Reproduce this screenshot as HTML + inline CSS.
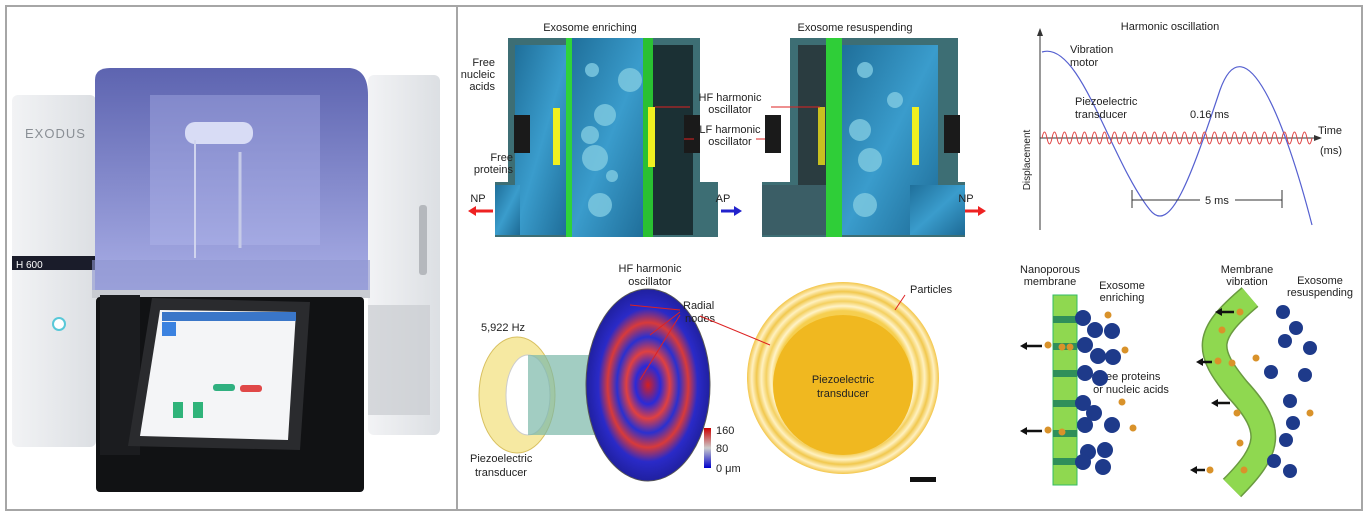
<!DOCTYPE html>
<html><head><meta charset="utf-8"><style>
html,body{margin:0;padding:0;background:#fff;}
svg{display:block;font-family:"Liberation Sans",Arial,sans-serif;}
</style></head><body>
<svg width="1369" height="517" viewBox="0 0 1369 517" xmlns="http://www.w3.org/2000/svg">
<defs>
<linearGradient id="glass" x1="0" y1="0" x2="0" y2="1"><stop offset="0" stop-color="#5d64b0"/><stop offset="1" stop-color="#a9aee6"/></linearGradient>
<linearGradient id="side" x1="0" y1="0" x2="1" y2="0"><stop offset="0" stop-color="#f2f3f5"/><stop offset="1" stop-color="#dcdfe3"/></linearGradient>
<linearGradient id="water" x1="0" y1="0" x2="1" y2="1"><stop offset="0" stop-color="#1f6f9a"/><stop offset="0.5" stop-color="#3a9ccc"/><stop offset="1" stop-color="#1d6a95"/></linearGradient>
<radialGradient id="heat" cx="0.5" cy="0.5" r="0.5"><stop offset="0" stop-color="#d42020"/><stop offset="0.2" stop-color="#2a2ad8"/><stop offset="0.35" stop-color="#e04040"/><stop offset="0.5" stop-color="#2a30d0"/><stop offset="0.65" stop-color="#d83a3a"/><stop offset="0.8" stop-color="#2a2ac8"/><stop offset="1" stop-color="#2020a0"/></radialGradient>
<radialGradient id="disc" cx="0.5" cy="0.5" r="0.5"><stop offset="0.7" stop-color="#f6cf50"/><stop offset="0.75" stop-color="#fff3c8"/><stop offset="0.8" stop-color="#f4d060"/><stop offset="0.85" stop-color="#fff1c0"/><stop offset="0.9" stop-color="#f1c84e"/><stop offset="0.95" stop-color="#fff0c0"/><stop offset="1" stop-color="#f3c64a"/></radialGradient>
<linearGradient id="cb" x1="0" y1="0" x2="0" y2="1"><stop offset="0" stop-color="#c00"/><stop offset="0.5" stop-color="#ccc"/><stop offset="1" stop-color="#00c"/></linearGradient>
</defs>
<rect x="6" y="6" width="1356" height="504" fill="none" stroke="#a6a6a6" stroke-width="2"/>
<line x1="457" y1="6" x2="457" y2="510" stroke="#a6a6a6" stroke-width="2"/>

<!-- device -->
<rect x="12" y="95" width="84" height="352" rx="6" fill="url(#side)"/>
<text x="25" y="138" font-size="13" fill="#8a8f95" letter-spacing="1">EXODUS</text>
<rect x="12" y="256" width="84" height="14" fill="#1a1c2a"/>
<text x="16" y="268" font-size="10" fill="#fff">H 600</text>
<circle cx="59" cy="324" r="6" fill="#fff" stroke="#58c8d8" stroke-width="2"/>
<rect x="368" y="75" width="72" height="360" rx="6" fill="url(#side)"/>
<rect x="368" y="305" width="62" height="110" fill="#c9ccd0" opacity="0.7"/>
<rect x="419" y="205" width="8" height="70" rx="3" fill="#b5b8bd"/>
<path d="M95 80 Q95 68 110 68 L350 68 Q368 70 368 95 L368 290 L95 290 Z" fill="url(#glass)"/>
<rect x="150" y="95" width="170" height="150" fill="#b7bcf0" opacity="0.35"/>
<rect x="185" y="122" width="68" height="22" rx="10" fill="#d8dcf5"/>
<line x1="195" y1="140" x2="195" y2="258" stroke="#d0d4ee" stroke-width="2"/>
<line x1="240" y1="152" x2="240" y2="248" stroke="#c6cbe8" stroke-width="3"/>
<rect x="92" y="260" width="278" height="37" fill="#8f96d0" opacity="0.6"/>
<rect x="92" y="290" width="278" height="8" fill="#c9ccd2"/>
<rect x="96" y="297" width="268" height="195" rx="4" fill="#111214"/>
<rect x="100" y="295" width="40" height="160" fill="#1b1c1f"/>
<polygon points="152,298 310,302 300,450 128,446" fill="#2a2b2e"/>
<polygon points="160,310 296,312 288,440 140,436" fill="#f4f5f7"/>
<rect x="162" y="312" width="134" height="9" fill="#3a76c8"/>
<rect x="162" y="322" width="14" height="14" fill="#3b82e0"/>
<rect x="213" y="384" width="22" height="7" rx="3" fill="#30b080"/>
<rect x="240" y="385" width="22" height="7" rx="3" fill="#e04848"/>
<rect x="173" y="402" width="10" height="16" fill="#2fb37a"/>
<rect x="193" y="402" width="10" height="16" fill="#2fb37a"/>

<!-- top chamber 1 -->
<g>
<path d="M508 38 L700 38 L700 182 L718 182 L718 237 L495 237 L495 182 L508 182 Z" fill="#3d6e74"/>
<rect x="515" y="45" width="55" height="190" fill="url(#water)"/>
<rect x="495" y="185" width="25" height="50" fill="url(#water)"/>
<rect x="570" y="38" width="80" height="199" fill="url(#water)"/>
<rect x="566" y="38" width="6" height="199" fill="#2fd23a"/>
<rect x="643" y="38" width="10" height="199" fill="#2ac032"/>
<rect x="653" y="45" width="40" height="190" fill="#1b3034"/>
<rect x="553" y="108" width="7" height="57" fill="#f0f020"/>
<rect x="648" y="107" width="7" height="60" fill="#f0f020"/>
<rect x="514" y="115" width="16" height="38" fill="#1a1a1a"/>
<rect x="684" y="115" width="16" height="38" fill="#1a1a1a"/>
<g fill="#7cc8e0" opacity="0.85"><circle cx="592" cy="70" r="7"/><circle cx="605" cy="115" r="11"/><circle cx="590" cy="135" r="9"/><circle cx="595" cy="158" r="13"/><circle cx="600" cy="205" r="12"/><circle cx="630" cy="80" r="12"/><circle cx="612" cy="176" r="6"/></g>
</g>
<!-- top chamber 2 -->
<g>
<path d="M790 38 L958 38 L958 182 L965 182 L965 237 L762 237 L762 182 L790 182 Z" fill="#3d6e74"/>
<rect x="798" y="45" width="28" height="190" fill="#2a3c40"/>
<rect x="762" y="185" width="64" height="50" fill="#3b5e66"/>
<rect x="826" y="38" width="16" height="199" fill="#2fce38"/>
<rect x="842" y="45" width="96" height="190" fill="url(#water)"/>
<rect x="910" y="185" width="55" height="50" fill="url(#water)"/>
<rect x="818" y="107" width="7" height="58" fill="#c8c020"/>
<rect x="912" y="107" width="7" height="58" fill="#f0f020"/>
<rect x="765" y="115" width="16" height="38" fill="#1a1a1a"/>
<rect x="944" y="115" width="16" height="38" fill="#1a1a1a"/>
<g fill="#7cc8e0" opacity="0.85"><circle cx="865" cy="70" r="8"/><circle cx="860" cy="130" r="11"/><circle cx="870" cy="160" r="12"/><circle cx="865" cy="205" r="12"/><circle cx="895" cy="100" r="8"/></g>
</g>
<g font-size="11" fill="#222" text-anchor="middle">
<text x="590" y="31">Exosome enriching</text>
<text x="855" y="31">Exosome resuspending</text>
<text x="730" y="101">HF harmonic</text><text x="730" y="113">oscillator</text>
<text x="730" y="133">LF harmonic</text><text x="730" y="145">oscillator</text>
<text x="495" y="66" text-anchor="end">Free</text><text x="495" y="78" text-anchor="end">nucleic</text><text x="495" y="90" text-anchor="end">acids</text>
<text x="513" y="161" text-anchor="end">Free</text><text x="513" y="173" text-anchor="end">proteins</text>
<text x="478" y="202">NP</text><text x="723" y="202">AP</text><text x="966" y="202">NP</text>
</g>
<g stroke="#d22" stroke-width="1"><line x1="690" y1="107" x2="655" y2="107"/><line x1="771" y1="107" x2="820" y2="107"/><line x1="694" y1="139" x2="684" y2="139"/><line x1="765" y1="139" x2="756" y2="139"/></g>
<path d="M473 211 L493 211" stroke="#e22" stroke-width="3"/><polygon points="468,211 476,206 476,216" fill="#e22"/>
<path d="M721 211 L737 211" stroke="#22c" stroke-width="3"/><polygon points="742,211 734,206 734,216" fill="#22c"/>
<path d="M965 211 L980 211" stroke="#e22" stroke-width="3"/><polygon points="986,211 978,206 978,216" fill="#e22"/>

<!-- harmonic plot -->
<text x="1170" y="30" font-size="11" text-anchor="middle" fill="#222">Harmonic oscillation</text>
<line x1="1040" y1="230" x2="1040" y2="34" stroke="#333"/><polygon points="1040,28 1037,36 1043,36" fill="#333"/>
<line x1="1040" y1="138" x2="1318" y2="138" stroke="#333"/><polygon points="1322,138 1314,135 1314,141" fill="#333"/>
<text x="1030" y="160" font-size="10" fill="#222" transform="rotate(-90 1030 160)" text-anchor="middle">Displacement</text>
<path d="M1042 52 C1080 40 1110 160 1150 210 C1170 235 1190 180 1220 90 C1245 20 1285 120 1312 225" fill="none" stroke="#5560d0" stroke-width="1.2"/>
<path d="M1042 138 q2.5 -12 5 0 t5 0 t5 0 t5 0 t5 0 t5 0 t5 0 t5 0 t5 0 t5 0 t5 0 t5 0 t5 0 t5 0 t5 0 t5 0 t5 0 t5 0 t5 0 t5 0 t5 0 t5 0 t5 0 t5 0 t5 0 t5 0 t5 0 t5 0 t5 0 t5 0 t5 0 t5 0 t5 0 t5 0 t5 0 t5 0 t5 0 t5 0 t5 0 t5 0 t5 0 t5 0 t5 0 t5 0 t5 0 t5 0 t5 0 t5 0 t5 0 t5 0 t5 0 t5 0 t5 0 t5 0" fill="none" stroke="#e04040" stroke-width="1"/>
<g font-size="11" fill="#222"><text x="1070" y="53">Vibration</text><text x="1070" y="66">motor</text>
<text x="1075" y="105">Piezoelectric</text><text x="1075" y="118">transducer</text>
<text x="1190" y="118">0.16 ms</text><text x="1318" y="134">Time</text><text x="1320" y="154">(ms)</text>
<text x="1205" y="204">5 ms</text></g>
<line x1="1132" y1="190" x2="1132" y2="208" stroke="#333"/><line x1="1282" y1="190" x2="1282" y2="208" stroke="#333"/>
<line x1="1132" y1="200" x2="1200" y2="200" stroke="#333"/><line x1="1235" y1="200" x2="1282" y2="200" stroke="#333"/>

<!-- bottom middle -->
<text x="650" y="272" font-size="11" text-anchor="middle" fill="#222">HF harmonic</text>
<text x="650" y="285" font-size="11" text-anchor="middle" fill="#222">oscillator</text>
<text x="481" y="331" font-size="11" fill="#222">5,922 Hz</text>
<ellipse cx="517" cy="395" rx="38" ry="58" fill="#f6e9a2" stroke="#d8c060"/>
<ellipse cx="528" cy="395" rx="22" ry="40" fill="#fff" stroke="#ccc"/>
<polygon points="528,355 600,355 600,435 528,435" fill="#7ab8a8" opacity="0.7"/>
<ellipse cx="648" cy="385" rx="62" ry="96" fill="url(#heat)" stroke="#555"/>
<text x="470" y="462" font-size="11" fill="#222">Piezoelectric</text><text x="475" y="476" font-size="11" fill="#222">transducer</text>
<text x="683" y="309" font-size="11" fill="#222">Radial</text><text x="685" y="322" font-size="11" fill="#222">nodes</text>
<rect x="704" y="428" width="7" height="40" fill="url(#cb)"/>
<g font-size="11" fill="#222"><text x="716" y="434">160</text><text x="716" y="452">80</text><text x="716" y="472">0 μm</text></g>
<circle cx="843" cy="378" r="96" fill="url(#disc)"/>
<circle cx="843" cy="385" r="70" fill="#f0b820"/>
<text x="843" y="383" font-size="11" text-anchor="middle" fill="#222">Piezoelectric</text>
<text x="843" y="397" font-size="11" text-anchor="middle" fill="#222">transducer</text>
<text x="910" y="293" font-size="11" fill="#222">Particles</text>
<rect x="910" y="477" width="26" height="5" fill="#111"/>
<g stroke="#d22" stroke-width="1"><line x1="680" y1="310" x2="630" y2="305"/><line x1="680" y1="312" x2="650" y2="335"/><line x1="680" y1="315" x2="640" y2="380"/><line x1="700" y1="316" x2="770" y2="345"/><line x1="905" y1="295" x2="895" y2="310"/></g>

<!-- bottom right membranes -->
<g font-size="11" fill="#222" text-anchor="middle"><text x="1050" y="273">Nanoporous</text><text x="1050" y="285">membrane</text>
<text x="1122" y="289">Exosome</text><text x="1122" y="301">enriching</text>
<text x="1128" y="380">Free proteins</text><text x="1131" y="393">or nucleic acids</text>
<text x="1247" y="273">Membrane</text><text x="1247" y="285">vibration</text>
<text x="1320" y="284">Exosome</text><text x="1320" y="296">resuspending</text></g>
<rect x="1053" y="295" width="24" height="190" fill="#8fd850" stroke="#3b6"/>
<g fill="#2f8f5a"><rect x="1053" y="316" width="24" height="7"/><rect x="1053" y="343" width="24" height="7"/><rect x="1053" y="370" width="24" height="7"/><rect x="1053" y="400" width="24" height="7"/><rect x="1053" y="430" width="24" height="7"/><rect x="1053" y="458" width="24" height="7"/></g>
<path d="M1250 297 C1205 335 1205 350 1238 390 C1275 430 1270 450 1232 488" fill="none" stroke="#6a9a40" stroke-width="26"/>
<path d="M1250 297 C1205 335 1205 350 1238 390 C1275 430 1270 450 1232 488" fill="none" stroke="#8fd850" stroke-width="23"/>
<g fill="#1e3a8a">
<circle cx="1083" cy="318" r="8"/><circle cx="1095" cy="330" r="8"/><circle cx="1112" cy="331" r="8"/><circle cx="1085" cy="345" r="8"/><circle cx="1098" cy="356" r="8"/><circle cx="1113" cy="357" r="8"/><circle cx="1085" cy="373" r="8"/><circle cx="1100" cy="378" r="8"/><circle cx="1083" cy="403" r="8"/><circle cx="1094" cy="413" r="8"/><circle cx="1085" cy="425" r="8"/><circle cx="1112" cy="425" r="8"/><circle cx="1088" cy="452" r="8"/><circle cx="1105" cy="450" r="8"/><circle cx="1083" cy="462" r="8"/><circle cx="1103" cy="467" r="8"/>
<circle cx="1283" cy="312" r="7"/><circle cx="1296" cy="328" r="7"/><circle cx="1285" cy="341" r="7"/><circle cx="1310" cy="348" r="7"/><circle cx="1271" cy="372" r="7"/><circle cx="1305" cy="375" r="7"/><circle cx="1290" cy="401" r="7"/><circle cx="1293" cy="423" r="7"/><circle cx="1286" cy="440" r="7"/><circle cx="1274" cy="461" r="7"/><circle cx="1290" cy="471" r="7"/>
</g>
<g fill="#d9922a"><circle cx="1048" cy="345" r="3.5"/><circle cx="1062" cy="347" r="3.5"/><circle cx="1070" cy="347" r="3.5"/><circle cx="1108" cy="315" r="3.5"/><circle cx="1125" cy="350" r="3.5"/><circle cx="1122" cy="402" r="3.5"/><circle cx="1133" cy="428" r="3.5"/><circle cx="1048" cy="430" r="3.5"/><circle cx="1062" cy="432" r="3.5"/><circle cx="1240" cy="312" r="3.5"/><circle cx="1222" cy="330" r="3.5"/><circle cx="1218" cy="361" r="3.5"/><circle cx="1232" cy="363" r="3.5"/><circle cx="1256" cy="358" r="3.5"/><circle cx="1237" cy="413" r="3.5"/><circle cx="1240" cy="443" r="3.5"/><circle cx="1210" cy="470" r="3.5"/><circle cx="1244" cy="470" r="3.5"/><circle cx="1310" cy="413" r="3.5"/></g>
<g stroke="#111" stroke-width="2.5"><line x1="1025" y1="346" x2="1042" y2="346"/><line x1="1025" y1="431" x2="1042" y2="431"/><line x1="1220" y1="312" x2="1234" y2="312"/><line x1="1200" y1="362" x2="1212" y2="362"/><line x1="1215" y1="403" x2="1230" y2="403"/><line x1="1195" y1="470" x2="1205" y2="470"/></g>
<g fill="#111"><polygon points="1020,346 1027,342 1027,350"/><polygon points="1020,431 1027,427 1027,435"/><polygon points="1215,312 1222,308 1222,316"/><polygon points="1196,362 1203,358 1203,366"/><polygon points="1211,403 1218,399 1218,407"/><polygon points="1190,470 1197,466 1197,474"/></g>
</svg>
</body></html>
